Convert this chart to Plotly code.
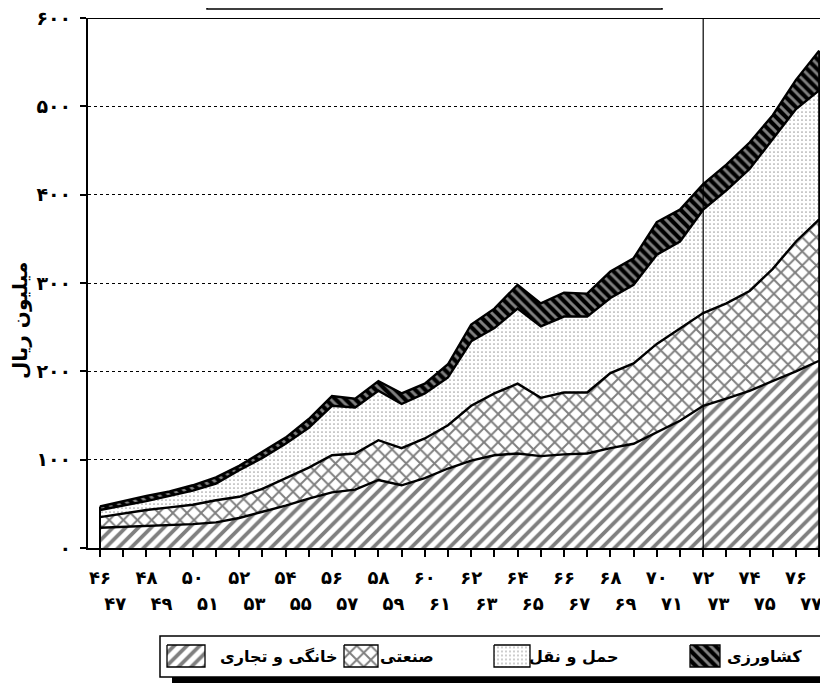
import plotly.graph_objects as go

# ---------------- data ----------------
years = list(range(46, 78))
household = [23, 24, 25, 26, 27, 29, 34, 41, 48, 56, 63, 66, 77, 71, 79, 90,
             99, 105, 107, 104, 106, 107, 113, 118, 131, 144, 161, 169, 178, 189, 200, 212]
industry = [12, 15, 18, 20, 22, 25, 24, 26, 31, 35, 42, 41, 45, 42, 45, 49,
            62, 70, 79, 66, 70, 69, 85, 91, 100, 104, 105, 108, 113, 127, 147, 160]
transport = [8, 9, 10, 13, 16, 19, 30, 35, 39, 45, 56, 52, 56, 50, 51, 54,
             73, 74, 85, 81, 86, 86, 85, 89, 101, 99, 117, 128, 138, 147, 150, 146]
agriculture = [4, 5, 6, 5, 6, 7, 5, 7, 7, 10, 11, 10, 11, 12, 11, 15,
               19, 22, 27, 26, 27, 26, 30, 30, 37, 36, 29, 29, 30, 27, 33, 45]
series_names = ["خانگی و تجاری", "صنعتی", "حمل و نقل", "کشاورزی"]
y_ticks = [0, 100, 200, 300, 400, 500, 600]
y_title = "میلیون ریال"
marker_year = 72

FA = str.maketrans("0123456789", "۰۱۲۳۴۵۶۷۸۹")


def fa(n):
    return str(n).translate(FA)


patterns = [
    dict(shape="/", fgcolor="black", bgcolor="white", size=9, solidity=0.42),
    dict(shape="x", fgcolor="black", bgcolor="white", size=10, solidity=0.35),
    dict(shape=".", fgcolor="#444444", bgcolor="white", size=4, solidity=0.15),
    dict(shape="\\", fgcolor="white", bgcolor="black", size=7, solidity=0.42),
]

fig = go.Figure()
series = [household, industry, transport, agriculture]
for vals, name, pat in zip(series, series_names, patterns):
    fig.add_trace(go.Scatter(
        x=years, y=vals, name=name, stackgroup="one", mode="lines",
        line=dict(color="black", width=2.4), fillcolor=pat["bgcolor"],
        fillpattern=pat, showlegend=False, hoverinfo="skip"))

totals = [sum(v) for v in zip(*series)]

# invisible trace so that the second (odd-year) label axis is drawn
odd_years = [y for y in years if y % 2 == 1]
fig.add_trace(go.Scatter(x=odd_years, y=[None] * len(odd_years), xaxis="x2", yaxis="y",
                         mode="markers", showlegend=False, hoverinfo="skip"))

# -------- hand-made legend on a helper axis (page-pixel-like units) --------
legend_items = [  # swatch x0, x1, label right edge
    (167, 205, 340),
    (344, 378, 436),
    (494, 530, 620),
    (690, 720, 804),
]
for (sx0, sx1, tx), name, pat in zip(legend_items, series_names, patterns):
    fig.add_trace(go.Scatter(
        x=[sx0, sx1, sx1, sx0, sx0], y=[645, 645, 667, 667, 645],
        xaxis="x3", yaxis="y3", mode="lines", fill="toself",
        fillcolor=pat["bgcolor"], fillpattern=pat,
        line=dict(color="black", width=1.3), showlegend=False, hoverinfo="skip"))
    fig.add_annotation(x=tx, y=656, xref="x3", yref="y3", text=name,
                       xanchor="right", yanchor="middle", showarrow=False,
                       font=dict(size=16, family="DejaVu Sans", color="black", weight="bold"))

tickfont = dict(size=18, family="DejaVu Sans", color="black", weight="bold")
xr = [45.483, 77.38]
shift = 8 / 23.2  # second label row sits a little left of its ticks
xr2 = [xr[0] + shift, xr[1] + shift]

PH = 666  # paper height in px (676 - 10)

fig.update_layout(
    width=820, height=676,
    margin=dict(l=80, r=0, t=10, b=0),
    paper_bgcolor="white", plot_bgcolor="white",
    showlegend=False,
    font=dict(family="DejaVu Sans", color="black"),
    xaxis=dict(
        range=xr, tickvals=years,
        ticktext=[fa(y) if y % 2 == 0 else "" for y in years],
        ticks="outside", ticklen=7, tickwidth=1.5, tickcolor="black",
        showline=True, linecolor="black", linewidth=2,
        showgrid=False, zeroline=False, tickfont=tickfont,
        ticklabelstandoff=5, ticklabeloverflow="allow",
        automargin=False, fixedrange=True),
    xaxis2=dict(
        range=xr2, overlaying="x", anchor="free", position=(684 - 591) / PH,
        side="bottom",
        tickvals=odd_years, ticktext=[fa(y) for y in odd_years],
        ticks="", showline=False, showgrid=False, zeroline=False,
        tickfont=tickfont, ticklabeloverflow="allow",
        automargin=False, fixedrange=True),
    yaxis=dict(
        domain=[(684 - 548) / PH, 1], range=[0, 600], tickvals=y_ticks,
        ticktext=[fa(v) for v in y_ticks],
        ticks="outside", ticklen=6, tickwidth=1.5, tickcolor="black",
        showline=True, linecolor="black", linewidth=2,
        showgrid=True, gridcolor="black", griddash="dot", gridwidth=1,
        zeroline=False, tickfont=dict(tickfont, size=19), ticklabelstandoff=5,
        ticklabeloverflow="allow", automargin=False, fixedrange=True),
    xaxis3=dict(domain=[0, 1], range=[88, 828], visible=False, fixedrange=True),
    yaxis3=dict(domain=[0, 0.1], range=[684, 684 - 0.1 * PH], visible=False,
                fixedrange=True, anchor="x3"),
)

fig.add_annotation(x=-0.092, y=0.43, xref="paper", yref="y domain", text=y_title,
                   textangle=-90, showarrow=False, xanchor="center", yanchor="middle",
                   font=dict(size=20, family="DejaVu Sans", color="black", weight="bold"))

shapes = [
    # top frame line at 600
    dict(type="line", xref="paper", yref="y", x0=-0.008, x1=1, y0=600, y1=600,
         line=dict(color="black", width=2)),
    # vertical marker line
    dict(type="line", xref="x", yref="y", x0=marker_year, x1=marker_year, y0=0, y1=600,
         line=dict(color="black", width=1.2), layer="above"),
    # closing edges of the stacked area
    dict(type="line", xref="x", yref="y", x0=years[0], x1=years[0], y0=0, y1=totals[0],
         line=dict(color="black", width=2), layer="above"),
    dict(type="line", xref="x", yref="y", x0=years[-1], x1=years[-1], y0=0, y1=totals[-1],
         line=dict(color="black", width=2), layer="above"),
    # title box remnant at top
    dict(type="rect", xref="paper", yref="paper", x0=0.1608, x1=0.7757,
         y0=1 + 9 / PH, y1=1.05, line=dict(color="black", width=1.5)),
    # legend box and shadow
    dict(type="rect", xref="x3", yref="y3", x0=160, x1=840, y0=636, y1=677,
         line=dict(color="black", width=1.5)),
    dict(type="rect", xref="x3", yref="y3", x0=172, x1=840, y0=677, y1=683,
         fillcolor="black", line=dict(width=0)),
]
fig.update_layout(shapes=shapes)

fig.write_html("out.html")
